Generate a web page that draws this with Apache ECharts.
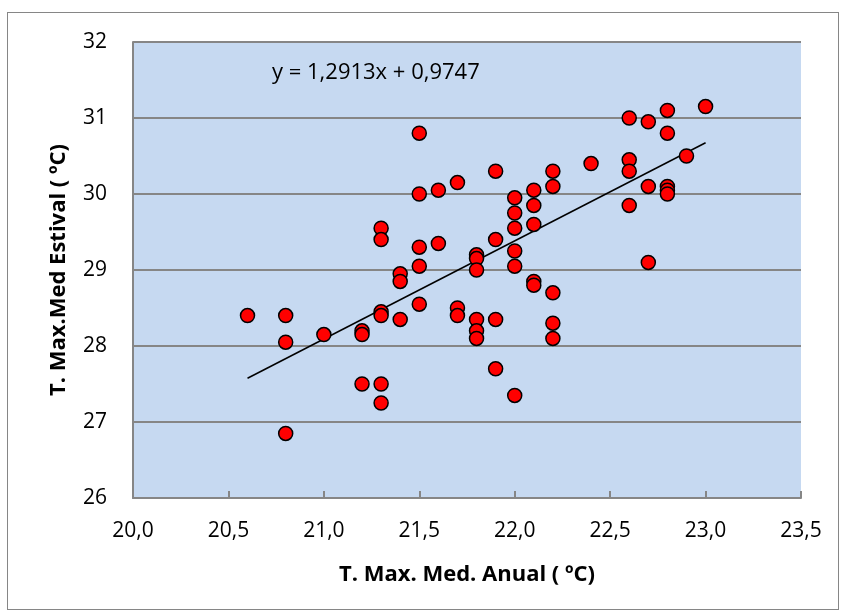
<!DOCTYPE html>
<html>
<head>
<meta charset="utf-8">
<script src="https://cdn.jsdelivr.net/npm/echarts@6/dist/echarts.min.js"></script>
<style>
  html, body { margin: 0; padding: 0; background: #fff; }
  #frame { position: absolute; left: 7px; top: 12px; width: 832px; height: 598px; border: 1px solid #868686; box-sizing: border-box; }
  #main { position: absolute; left: 0; top: 0; width: 845px; height: 615px; }
</style>
</head>
<body>
<div id="frame"></div>
<div id="main"></div>
<script>
(function () {
  // annual mean max temperature (x) vs summer mean max temperature (y)
  var tAnual = [20.6, 20.8, 20.8, 20.8, 21.0, 21.2, 21.2, 21.2,
    21.3, 21.3, 21.3, 21.3, 21.3, 21.3, 21.4, 21.4, 21.4,
    21.5, 21.5, 21.5, 21.5, 21.5, 21.6, 21.6, 21.7, 21.7, 21.7,
    21.8, 21.8, 21.8, 21.8, 21.8, 21.8, 21.9, 21.9, 21.9, 21.9,
    22.0, 22.0, 22.0, 22.0, 22.0, 22.0, 22.1, 22.1, 22.1, 22.1, 22.1,
    22.2, 22.2, 22.2, 22.2, 22.2, 22.4, 22.6, 22.6, 22.6, 22.6,
    22.7, 22.7, 22.7, 22.8, 22.8, 22.8, 22.8, 22.8, 22.9, 23.0];
  var tEstival = [28.4, 28.4, 28.05, 26.85, 28.15, 28.2, 28.15, 27.5,
    29.55, 29.4, 28.45, 28.4, 27.5, 27.25, 28.95, 28.85, 28.35,
    30.8, 30.0, 29.3, 29.05, 28.55, 30.05, 29.35, 30.15, 28.5, 28.4,
    29.2, 29.15, 29.0, 28.35, 28.2, 28.1, 30.3, 29.4, 28.35, 27.7,
    29.95, 29.75, 29.55, 29.25, 29.05, 27.35, 30.05, 29.85, 29.6, 28.85, 28.8,
    30.3, 30.1, 28.7, 28.3, 28.1, 30.4, 31.0, 30.45, 30.3, 29.85,
    30.95, 30.1, 29.1, 31.1, 30.8, 30.1, 30.05, 30.0, 30.5, 31.15];
  // linear trendline y = 1,2913x + 0,9747
  var slope = 1.2913;
  var intercept = 0.9747;
  var trendX = [20.6, 23.0];

  var points = [];
  for (var i = 0; i < tAnual.length; i++) {
    points.push([tAnual[i], tEstival[i]]);
  }
  var trend = trendX.map(function (x) { return [x, slope * x + intercept]; });

  var font = '"Open Sans", "Noto Sans", sans-serif';
  var chart = echarts.init(document.getElementById('main'));
  var option = {
    animation: false,
    backgroundColor: 'transparent',
    grid: { left: 133, right: 44, top: 42, bottom: 117, show: true, backgroundColor: '#c6d9f1', borderWidth: 0 },
    xAxis: {
      type: 'value', min: 20, max: 23.5, interval: 0.5,
      name: 'T. Max. Med. Anual ( ºC)', nameLocation: 'middle', nameGap: 66,
      nameTextStyle: { fontFamily: font, fontSize: 22, fontWeight: 'bold', color: '#000' },
      axisLine: { show: true, lineStyle: { color: '#868686', width: 2 } },
      axisTick: { show: true, inside: true, length: 7, lineStyle: { color: '#868686', width: 2 } },
      axisLabel: { margin: 23, fontFamily: font, fontSize: 21, color: '#000',
        formatter: function (v) { return v.toFixed(1).replace('.', ','); } },
      splitLine: { show: false }
    },
    yAxis: {
      type: 'value', min: 26, max: 32, interval: 1,
      name: 'T. Max.Med Estival ( ºC)', nameLocation: 'middle', nameGap: 63,
      nameTextStyle: { fontFamily: font, fontSize: 22, fontWeight: 'bold', color: '#000' },
      axisLine: { show: true, lineStyle: { color: '#868686', width: 2 } },
      axisTick: { show: false },
      axisLabel: { margin: 26, fontFamily: font, fontSize: 21, color: '#000' },
      splitLine: { show: true, lineStyle: { color: '#868686', width: 2 } }
    },
    graphic: [{
      type: 'text', left: 272, top: 62,
      style: { text: 'y = 1,2913x + 0,9747', fontFamily: font, fontSize: 22, fill: '#000' }
    }],
    series: [
      {
        type: 'line', data: trend, symbol: 'none', z: 3,
        lineStyle: { color: '#000', width: 1.5 }
      },
      {
        type: 'scatter', data: points, symbolSize: 14, z: 4,
        itemStyle: { color: '#ff0000', borderColor: '#000', borderWidth: 1.5, opacity: 1 }
      }
    ]
  };
  chart.setOption(option);
})();
</script>
</body>
</html>
